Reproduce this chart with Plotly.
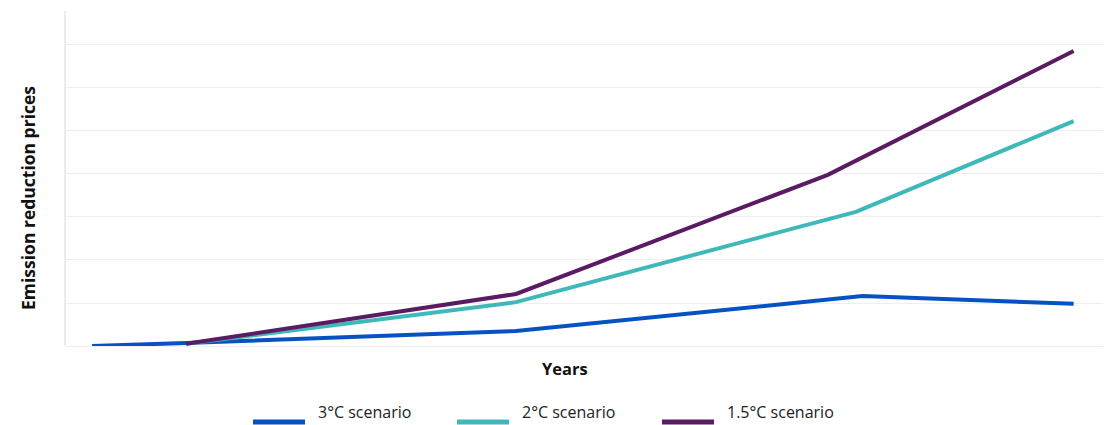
import plotly.graph_objects as go

# Scenario series (x: year, y: relative price index)
years_3c = [2017.15, 2020.0, 2030.0, 2040.5, 2046.9]
price_3c = [0.0, 0.07, 0.35, 1.16, 0.98]

years_2c = [2020.0, 2030.0, 2040.3, 2046.9]
price_2c = [0.05, 1.02, 3.12, 5.23]

years_15c = [2020.0, 2030.0, 2039.45, 2046.9]
price_15c = [0.05, 1.21, 3.98, 6.86]

series_names = ["3°C scenario", "2°C scenario", "1.5°C scenario"]
series_colors = ["#0652c5", "#3fb8b9", "#5a1b63"]

FONT = "Open Sans"

fig = go.Figure()
for xs, ys, name, color in zip(
    [years_3c, years_2c, years_15c],
    [price_3c, price_2c, price_15c],
    series_names,
    series_colors,
):
    fig.add_trace(go.Scatter(
        x=xs, y=ys, name=name, mode="lines",
        line=dict(color=color, width=4),
        showlegend=False, hoverinfo="skip",
    ))

W, H = 1111, 425
ML, MR, MT, MB = 66, 8, 11, 79
pw, ph = W - ML - MR, H - MT - MB

def px_x(p):
    return (p - ML) / pw

def px_y(p):
    return (H - MB - p) / ph

# custom legend row under the plot
legend_items = list(zip(series_names, series_colors))
line_starts = [253, 457, 662]
legend_y = 422
for (name, color), x0 in zip(legend_items, line_starts):
    fig.add_shape(type="line", xref="paper", yref="paper",
                  x0=px_x(x0), x1=px_x(x0 + 52), y0=px_y(legend_y), y1=px_y(legend_y),
                  line=dict(color=color, width=5))
    fig.add_annotation(xref="paper", yref="paper", x=px_x(x0 + 63), y=px_y(412),
                       text=name, showarrow=False, xanchor="left", yanchor="middle",
                       font=dict(family=FONT, size=16, color="#222222"))

# axis titles
fig.add_annotation(xref="paper", yref="paper", x=px_x(565), y=px_y(368),
                   text="<b>Years</b>", showarrow=False, xanchor="center", yanchor="middle",
                   font=dict(family=FONT, size=16.5, color="#111111"))
fig.add_annotation(xref="paper", yref="paper", x=px_x(28), y=px_y(198),
                   text="<b>Emission reduction prices</b>", showarrow=False, textangle=-90,
                   xanchor="center", yanchor="middle",
                   font=dict(family=FONT, size=17.5, color="#111111"))

fig.update_layout(
    width=W, height=H,
    margin=dict(l=ML, r=MR, t=MT, b=MB),
    paper_bgcolor="white", plot_bgcolor="white",
    font=dict(family=FONT, size=16, color="#111111"),
    showlegend=False,
)
fig.update_xaxes(
    range=[2016.36, 2047.79], showgrid=False, zeroline=False,
    showticklabels=False, ticks="", showline=False,
)
fig.update_yaxes(
    range=[0, 7.79], dtick=1, showgrid=True, gridcolor="#efefef", gridwidth=1,
    zeroline=True, zerolinecolor="#efefef", zerolinewidth=1,
    showticklabels=False, ticks="",
    showline=True, linecolor="#ececec", linewidth=2,
)

fig.write_html("out.html")
